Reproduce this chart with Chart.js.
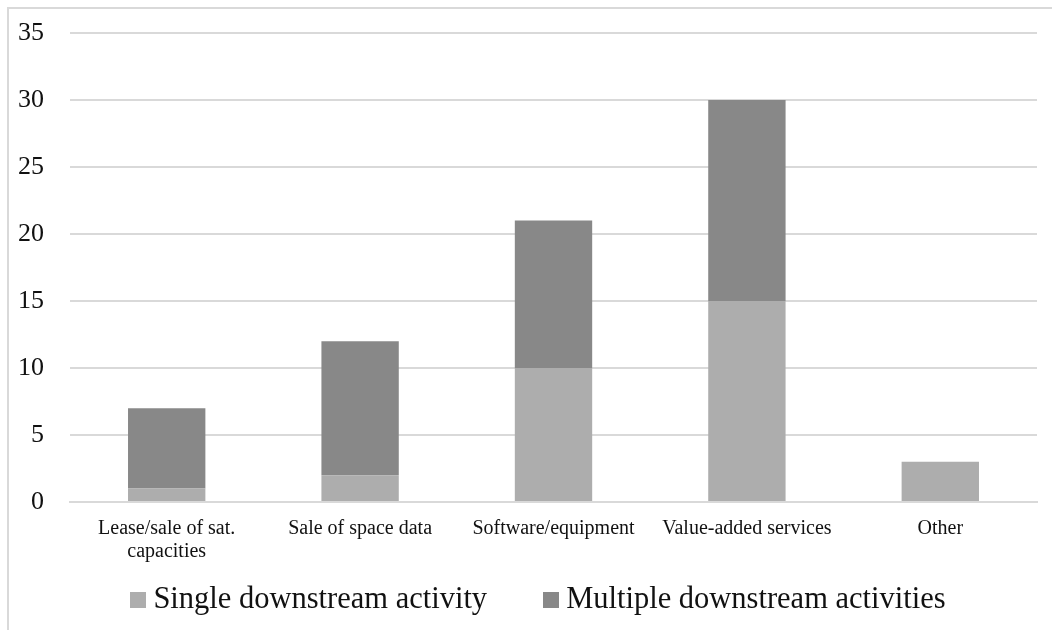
<!DOCTYPE html>
<html lang="en">
<head>
  <meta charset="UTF-8" />
  <title>Downstream activities</title>
  <script src="https://cdn.jsdelivr.net/npm/chart.js@4.4.1/dist/chart.umd.min.js"></script>
  <style>
    html,body{margin:0;padding:0;background:#fff;}
    #wrap{width:1052px;height:630px;position:relative;}
    #legend{
      position:absolute;left:0;top:581px;width:1052px;
      display:flex;justify-content:center;align-items:center;
      font-family:'Liberation Serif','Times New Roman',serif;font-size:30.5px;color:#111;
      padding-left:24px;box-sizing:border-box;
    }
    #legend .item{display:flex;align-items:center;margin:0 28px;}
    #legend .sw{width:16px;height:16px;margin-right:7px;margin-top:2px;}
  </style>
</head>
<body>
  <div id="wrap">
    <canvas id="chart" width="1052" height="630"></canvas>
    <div id="legend"></div>
  </div>

  <script>
    // data
    const categories = [
      ["Lease/sale of sat.", "capacities"],
      "Sale of space data",
      "Software/equipment",
      "Value-added services",
      "Other"
    ];
    const singleVals   = [1, 2, 10, 15, 3];
    const multipleVals = [6, 10, 11, 15, 0];
    const yTicks = [0, 5, 10, 15, 20, 25, 30, 35];

    const SERIF = "'Liberation Serif', 'Times New Roman', serif";
    const GRID = '#d9d9d9';

    // light frame at top and left, like the exported chart box
    const frame = {
      id:'frame',
      beforeDraw(c){
        const x = c.ctx;
        x.save();
        x.strokeStyle = GRID; x.lineWidth = 2;
        x.beginPath();
        x.moveTo(8, 630); x.lineTo(8, 8); x.lineTo(1052, 8);
        x.stroke();
        x.restore();
      }
    };

    const chart = new Chart(document.getElementById('chart'), {
      type:'bar',
      data:{
        labels:categories,
        datasets:[
          {label:'Single downstream activity', data:singleVals, backgroundColor:'#adadad'},
          {label:'Multiple downstream activities', data:multipleVals, backgroundColor:'#888888'}
        ]
      },
      options:{
        responsive:false, animation:false,
        layout:{padding:{top:33, left:8, right:15, bottom:0}},
        barPercentage:0.4, categoryPercentage:1,
        plugins:{
          tooltip:{enabled:false},
          legend:{display:false}
        },
        scales:{
          x:{
            stacked:true,
            grid:{display:false, drawTicks:false},
            border:{color:GRID, width:2},
            ticks:{color:'#111', padding:15, maxRotation:0, autoSkip:false,
                   font:{family:SERIF, size:20, lineHeight:1.15}},
            afterFit(s){ s.height = 128; s.paddingLeft = 0; s.paddingRight = 0; }
          },
          y:{
            stacked:true, min:0, max:35,
            afterBuildTicks(s){ s.ticks = yTicks.map(v => ({value:v})); },
            grid:{color:GRID, lineWidth:2, drawTicks:false},
            border:{display:false},
            ticks:{color:'#111', padding:26, font:{family:SERIF, size:26}},
            afterFit(s){ s.width = 62; s.paddingTop = 0; s.paddingBottom = 0; }
          }
        }
      },
      plugins:[frame]
    });

    // legend built from the datasets
    const lg = document.getElementById('legend');
    chart.data.datasets.forEach(ds => {
      const it = document.createElement('div'); it.className = 'item';
      const sw = document.createElement('span'); sw.className = 'sw';
      sw.style.background = ds.backgroundColor;
      const tx = document.createElement('span'); tx.textContent = ds.label;
      it.append(sw, tx); lg.append(it);
    });
  </script>
</body>
</html>
